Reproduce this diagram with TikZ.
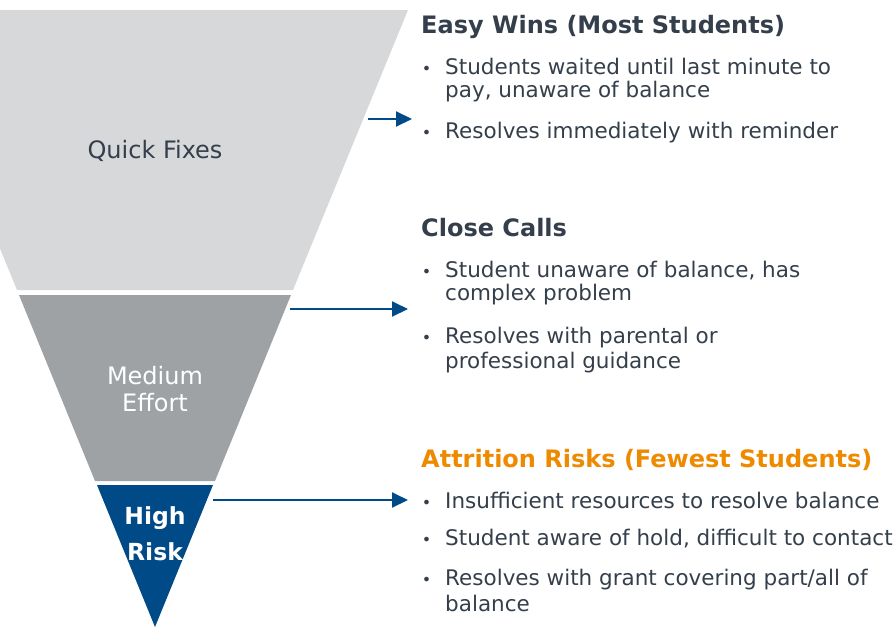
\documentclass[tikz,border=0pt]{standalone}
\usepackage{fontspec}
\setmainfont{DejaVu Sans}
\usetikzlibrary{arrows.meta}
\definecolor{fixgray}{HTML}{D7D8DA}
\definecolor{effortgray}{HTML}{9EA2A5}
\definecolor{riskblue}{HTML}{004A87}
\definecolor{inkgray}{HTML}{343F4B}
\definecolor{riskorange}{HTML}{EE8A00}
\newcommand{\bul}{\llap{{\fontsize{16}{16}\selectfont\textbullet}\hspace{14pt}}}
\begin{document}
\begin{tikzpicture}[x=1pt,y=-1pt,
    head/.style={anchor=base west, inner sep=0pt, font=\fontsize{24}{28}\selectfont\bfseries, text=inkgray},
    point/.style={anchor=base west, inner sep=0pt, align=left, font=\fontsize{21.5}{23}\selectfont, text=inkgray},
    stage/.style={inner sep=0pt, align=center, font=\fontsize{24}{27}\selectfont},
    link/.style={riskblue, line width=2pt, -{Triangle[length=16pt,width=15pt]}}]
    \useasboundingbox (0,0) rectangle (896,627);
    % funnel
    \fill[fixgray] (-98,10) -- (408,10) -- (293,290) -- (17,290) -- cycle;
    \fill[effortgray] (19,295) -- (291,295) -- (215,481) -- (95,481) -- cycle;
    \fill[riskblue] (97,485) -- (213,485) -- (155,627) -- cycle;
    \node[stage, text=inkgray] (fixes) at (155,151) {Quick Fixes};
    \node[stage, text=white] (effort) at (155,389) {Medium\\Effort};
    \node[stage, text=white, font=\fontsize{23.5}{36}\selectfont\bfseries] (high) at (155,534) {High\\Risk};
    % text blocks (multi-line nodes sit on their last baseline)
    \node[head] (wins) at (421,33) {Easy Wins (Most Students)};
    \node[point] (wins-a) at (445,97) {\bul Students waited until last minute to\\pay, unaware of balance};
    \node[point] (wins-b) at (445,138) {\bul Resolves immediately with reminder};
    \node[head] (calls) at (421,236) {Close Calls};
    \node[point] (calls-a) at (445,300) {\bul Student unaware of balance, has\\complex problem};
    \node[point, font=\fontsize{21.5}{25}\selectfont] (calls-b) at (445,368) {\bul Resolves with parental or\\professional guidance};
    \node[head, text=riskorange] (risks) at (421,467) {Attrition Risks (Fewest Students)};
    \node[point] (risks-a) at (445,508) {\bul Insufficient resources to resolve balance};
    \node[point] (risks-b) at (445,545) {\bul Student aware of hold, difficult to contact};
    \node[point, font=\fontsize{21.5}{26}\selectfont] (risks-c) at (445,611) {\bul Resolves with grant covering part/all of\\balance};
    % arrows
    \coordinate (fixes-out) at (368,119);
    \coordinate (wins-in) at (412,119);
    \coordinate (effort-out) at (290,309);
    \coordinate (calls-in) at (408,309);
    \coordinate (high-out) at (213,500);
    \coordinate (risks-in) at (408,500);
    \draw[link] (fixes-out) -- (wins-in);
    \draw[link] (effort-out) -- (calls-in);
    \draw[link] (high-out) -- (risks-in);
\end{tikzpicture}
\end{document}
